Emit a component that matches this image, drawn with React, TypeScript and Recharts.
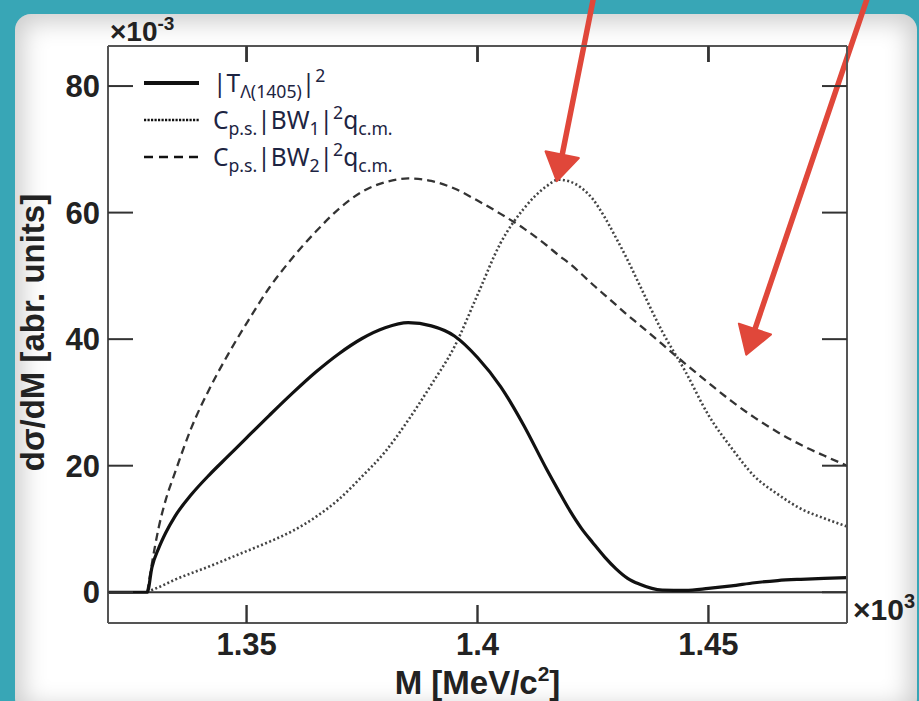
import React from 'react';
import { LineChart, Line, XAxis, YAxis, ReferenceLine, Legend, Label } from 'recharts';

// ---- data (M in ×10^3 MeV/c^2, dσ/dM in ×10^-3 arbitrary units) ----
const massValues = [1.32, 1.3285, 1.3295, 1.331, 1.3325, 1.3345, 1.338, 1.342, 1.346, 1.35, 1.355, 1.36, 1.365, 1.37, 1.375, 1.38, 1.385, 1.39, 1.395, 1.4, 1.405, 1.41, 1.415, 1.4175, 1.42, 1.4225, 1.425, 1.4275, 1.43, 1.4325, 1.435, 1.44, 1.445, 1.45, 1.455, 1.46, 1.465, 1.47, 1.475, 1.48];
const tLambda = [0, 0, 3.9, 7.0, 9.4, 12.0, 15.4, 18.6, 21.5, 24.4, 28.0, 31.5, 34.8, 37.7, 40.1, 41.8, 42.6, 42.1, 40.5, 37.1, 32.5, 26.4, 19.4, 16.1, 12.9, 10.1, 7.8, 5.6, 3.7, 2.2, 1.3, 0.35, 0.3, 0.6, 1.0, 1.5, 1.85, 2.05, 2.2, 2.3];
const bw1 = [null, 0, 0.35, 0.8, 1.3, 2.0, 3.0, 4.1, 5.3, 6.5, 8.0, 9.7, 11.9, 14.7, 18.3, 22.2, 27.2, 32.8, 38.8, 47.0, 55.2, 60.6, 64.2, 65.2, 64.9, 63.9, 62.1, 59.3, 56.0, 52.5, 48.7, 41.2, 34.9, 28.0, 22.8, 18.3, 15.5, 13.2, 11.7, 10.4];
const bw2 = [null, 0, 4.5, 10.3, 14.6, 18.9, 25.9, 32.2, 37.6, 42.5, 48.2, 52.9, 57.0, 60.6, 63.3, 64.8, 65.4, 65.0, 63.8, 61.9, 59.8, 57.5, 54.8, 53.3, 51.9, 50.3, 48.6, 47.0, 45.4, 43.8, 42.3, 39.2, 36.1, 33.1, 30.2, 27.6, 25.3, 23.3, 21.6, 20.0];

const xTicks = [1.35, 1.4, 1.45];
const xTickLabels = ['1.35', '1.4', '1.45'];
const yTicks = [0, 20, 40, 60, 80];
const yTickLabels = ['0', '20', '40', '60', '80'];
const xDomain = [1.32, 1.48];
const yDomain = [-4.86, 86.33];

// annotation arrows (data coordinates: start, tip)
const arrowStarts = [{ x: 1.42505, y: 93.7 }, { x: 1.4843, y: 93.7 }];
const arrowTips = [{ x: 1.41719, y: 64.97 }, { x: 1.45819, y: 37.55 }];

const data = massValues.map((m, i) => ({ m, t: tLambda[i], bw1: bw1[i], bw2: bw2[i] }));

const TOP_AXIS_H = 46;
const BOTTOM_AXIS_H = 78;
const boldFont = "'Liberation Sans', Arial, sans-serif";
const legendFont = "'Noto Sans', 'Open Sans', sans-serif";
const RED = '#e0473a';
const FRAME = '#555';
const TICK = '#333';

const LeftTick = (props: any) => {
  const { x, y, payload } = props;
  const i = yTicks.indexOf(payload.value);
  return (
    <g>
      <line x1={x} y1={y} x2={x + 25} y2={y} stroke={TICK} strokeWidth={2} />
      <text x={x - 8} y={y} dy="0.36em" textAnchor="end" fontFamily={boldFont} fontWeight="bold" fontSize={31} fill="#222">
        {yTickLabels[i]}
      </text>
    </g>
  );
};
const RightTick = (props: any) => {
  const { x, y } = props;
  return <line x1={x} y1={y} x2={x - 25} y2={y} stroke={TICK} strokeWidth={2} />;
};
// bottom tick: inward tick on the bottom frame, its label, and the matching inward tick on the top frame
const BottomTick = (props: any) => {
  const { x, y, payload } = props;
  const i = xTicks.indexOf(payload.value);
  return (
    <g>
      <path d={`M${x},${y} L${x},${y - 18}`} stroke={TICK} strokeWidth={2.4} fill="none" />
      <path d={`M${x},${TOP_AXIS_H} L${x},${TOP_AXIS_H + 16}`} stroke={TICK} strokeWidth={2.4} fill="none" />
      <text x={x} y={y + 32} textAnchor="middle" fontFamily={boldFont} fontWeight="bold" fontSize={31} fill="#222">
        {xTickLabels[i]}
      </text>
    </g>
  );
};

// inward tick on the top frame from a vertical reference line's end points
const topTickShape = (props: any) => {
  const { x1, y1, y2 } = props;
  const top = Math.min(Number(y1), Number(y2));
  return <path d={`M${x1},${top} L${x1},${top + 16}`} stroke={TICK} strokeWidth={2.4} fill="none" />;
};

const arrowShape = (props: any) => {
  const { x1, y1, x2, y2 } = props;
  const dx = x2 - x1;
  const dy = y2 - y1;
  const len = Math.hypot(dx, dy) || 1;
  const ux = dx / len;
  const uy = dy / len;
  const head = 27;
  const half = 17;
  const bx = x2 - ux * head;
  const by = y2 - uy * head;
  const px = -uy;
  const py = ux;
  return (
    <g>
      <line x1={x1} y1={y1} x2={bx + ux * 4} y2={by + uy * 4} stroke={RED} strokeWidth={5.5} strokeLinecap="round" />
      <polygon points={`${x2},${y2} ${bx + px * half},${by + py * half} ${bx - px * half},${by - py * half}`} fill={RED} stroke={RED} strokeWidth={2} strokeLinejoin="round" />
    </g>
  );
};

const subStyle: React.CSSProperties = { fontSize: '0.72em', verticalAlign: '-0.32em', lineHeight: 0 };
const supStyle: React.CSSProperties = { fontSize: '0.72em', verticalAlign: '0.55em', lineHeight: 0 };

const LegendSample = ({ dash, width }: { dash?: string; width: number }) => (
  <svg width={58} height={12} style={{ display: 'block' }}>
    <line x1={1} y1={6} x2={56} y2={6} stroke="#111" strokeWidth={width} strokeDasharray={dash} />
  </svg>
);

const LegendBox = () => (
  <div style={{ fontFamily: legendFont, color: '#1d2442', fontSize: 24.5 }}>
    <div style={{ display: 'flex', alignItems: 'center', height: 37 }}>
      <LegendSample width={4} />
      <span style={{ marginLeft: 12, whiteSpace: 'nowrap' }}>
        |T<span style={subStyle}>Λ(1405)</span>|<span style={supStyle}>2</span>
      </span>
    </div>
    <div style={{ display: 'flex', alignItems: 'center', height: 37 }}>
      <LegendSample width={2.5} dash="2.2 1.3" />
      <span style={{ marginLeft: 12, whiteSpace: 'nowrap' }}>
        C<span style={subStyle}>p.s.</span>|BW<span style={subStyle}>1</span>|<span style={supStyle}>2</span>q<span style={subStyle}>c.m.</span>
      </span>
    </div>
    <div style={{ display: 'flex', alignItems: 'center', height: 37 }}>
      <LegendSample width={2.5} dash="9 6" />
      <span style={{ marginLeft: 12, whiteSpace: 'nowrap' }}>
        C<span style={subStyle}>p.s.</span>|BW<span style={subStyle}>2</span>|<span style={supStyle}>2</span>q<span style={subStyle}>c.m.</span>
      </span>
    </div>
  </div>
);

const YTitle = (props: any) => {
  const vb = props.viewBox;
  const cx = 44;
  const cy = vb.y + vb.height / 2 - 2;
  return (
    <text x={cx} y={cy} transform={`rotate(-90, ${cx}, ${cy})`} textAnchor="middle" fontFamily={boldFont} fontWeight="bold" fontSize={33} fill="#222">
      dσ/dM [abr. units]
    </text>
  );
};
const YExp = (props: any) => {
  const vb = props.viewBox;
  return (
    <text x={vb.x + vb.width + 2} y={vb.y - 5} fontFamily={boldFont} fontWeight="bold" fontSize={28} fill="#222">
      ×10<tspan fontSize={19} dy={-11}>-3</tspan>
    </text>
  );
};
const XTitle = (props: any) => {
  const vb = props.viewBox;
  return (
    <text x={vb.x + vb.width / 2} y={vb.y + 71} textAnchor="middle" fontFamily={boldFont} fontWeight="bold" fontSize={33} fill="#222">
      M [MeV/c<tspan fontSize={21} dy={-13}>2</tspan><tspan dy={13}>]</tspan>
    </text>
  );
};
const XExp = (props: any) => {
  const vb = props.viewBox;
  return (
    <text x={vb.x + vb.width + 6} y={vb.y - 3} fontFamily={boldFont} fontWeight="bold" fontSize={30} fill="#222">
      ×10<tspan fontSize={20} dy={-12}>3</tspan>
    </text>
  );
};

export default function App() {
  return (
    <div style={{ position: 'absolute', left: 0, top: 0, width: 919, height: 701, overflow: 'hidden', background: '#38a6b6' }}>
      <div
        style={{
          position: 'absolute',
          left: 15,
          top: 14,
          width: 902,
          height: 700,
          background: '#ffffff',
          borderRadius: 16,
          boxShadow: 'inset 0 0 24px 8px rgba(0,0,0,0.2)',
        }}
      />
      <div style={{ position: 'absolute', left: 0, top: 0 }}>
        <LineChart width={919} height={701} data={data} margin={{ top: 0, right: 0, bottom: 0, left: 0 }}>
          <XAxis
            dataKey="m"
            type="number"
            domain={xDomain}
            ticks={xTicks}
            allowDataOverflow
            height={BOTTOM_AXIS_H}
            axisLine={{ stroke: FRAME, strokeWidth: 2 }}
            tickLine={false}
            tickSize={0}
            tickMargin={0}
            tick={<BottomTick />}
            interval={0}
          >
            <Label content={<XTitle />} />
            <Label content={<XExp />} />
          </XAxis>
          <XAxis
            xAxisId="top"
            dataKey="m"
            orientation="top"
            type="number"
            domain={xDomain}
            allowDataOverflow
            height={TOP_AXIS_H}
            axisLine={{ stroke: FRAME, strokeWidth: 2 }}
            tickLine={false}
            tick={false}
          />
          <YAxis
            type="number"
            domain={yDomain}
            ticks={yTicks}
            allowDataOverflow
            width={108}
            axisLine={{ stroke: FRAME, strokeWidth: 2 }}
            tickLine={false}
            tickSize={0}
            tickMargin={0}
            tick={<LeftTick />}
            interval={0}
          >
            <Label content={<YTitle />} />
            <Label content={<YExp />} />
          </YAxis>
          <YAxis
            yAxisId="right"
            orientation="right"
            type="number"
            domain={yDomain}
            ticks={yTicks}
            allowDataOverflow
            width={72}
            axisLine={{ stroke: FRAME, strokeWidth: 2 }}
            tickLine={false}
            tickSize={0}
            tickMargin={0}
            tick={<RightTick />}
            interval={0}
          />
          <ReferenceLine y={0} stroke="#333" strokeWidth={2} />
          {xTicks.map((t, i) => (
            <ReferenceLine key={`topTick${i}`} x={t} ifOverflow="visible" shape={topTickShape} />
          ))}
          <Line dataKey="bw2" type="monotone" stroke="#333" strokeWidth={2.3} strokeDasharray="8 5" dot={false} activeDot={false} isAnimationActive={false} />
          <Line dataKey="bw1" type="monotone" stroke="#444" strokeWidth={2.6} strokeDasharray="2 2.4" dot={false} activeDot={false} isAnimationActive={false} />
          <Line dataKey="t" type="monotone" stroke="#111" strokeWidth={3.2} dot={false} activeDot={false} isAnimationActive={false} />
          {arrowStarts.map((s, i) => (
            <ReferenceLine key={`arrow${i}`} segment={[s, arrowTips[i]]} ifOverflow="visible" shape={arrowShape} />
          ))}
          <Legend
            layout="horizontal"
            verticalAlign="middle"
            align="center"
            wrapperStyle={{ position: 'absolute', left: 143, top: 64, width: 'auto', height: 'auto' }}
            content={() => <LegendBox />}
          />
        </LineChart>
      </div>
    </div>
  );
}
